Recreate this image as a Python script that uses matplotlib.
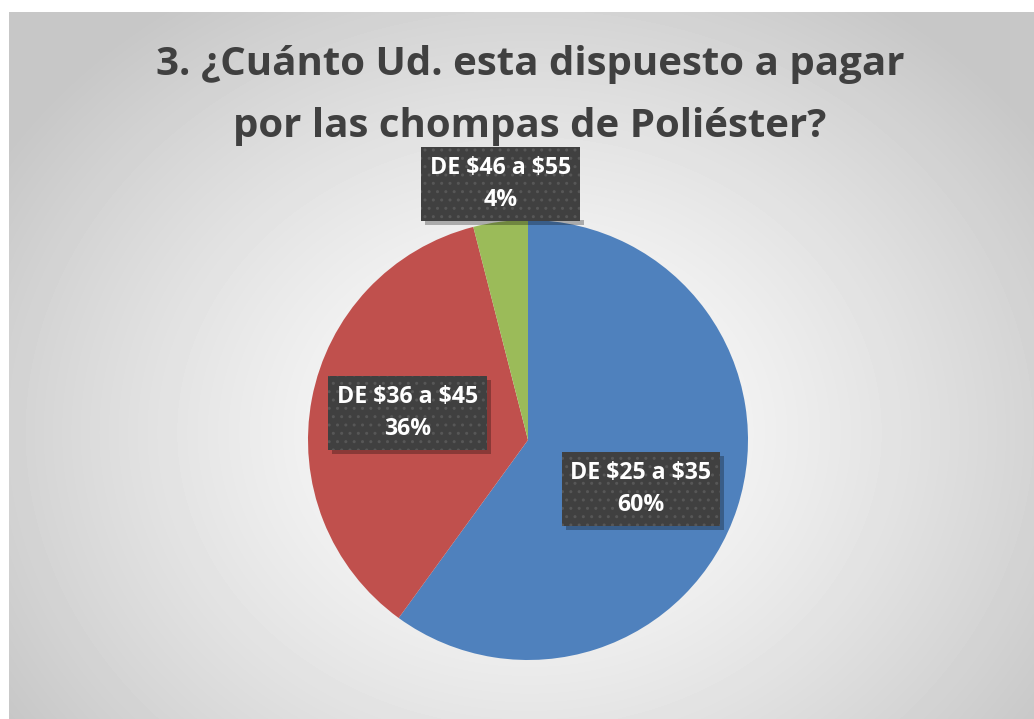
import numpy as np
import matplotlib.pyplot as plt
from matplotlib.patches import Rectangle
from matplotlib.transforms import IdentityTransform

TITLE_LINES = ["3. ¿Cuánto Ud. esta dispuesto a pagar", "por las chompas de Poliéster?"]
categories = ["DE \\$25 a \\$35", "DE \\$36 a \\$45", "DE \\$46 a \\$55"]
shares = [60, 36, 4]
colors = ["#4F81BD", "#C0504D", "#9BBB59"]
label_radius = [0.56, 0.56, 1.17]
label_turn = [-5.5, -2.0, -1.0]   # degrees added to each wedge's mid-angle

W, H = 1034, 719
plt.rcParams["font.family"] = ["Open Sans", "DejaVu Sans"]
plt.rcParams["hatch.linewidth"] = 1.0

fig = plt.figure(figsize=(W / 100, H / 100), dpi=100)
fig.patch.set_facecolor("white")

# chart area with a soft radial gradient
bg = fig.add_axes([9 / W, 0, 1 - 9 / W, 1 - 12 / H])
yy, xx = np.mgrid[0:707, 0:1025]
cx, cy = 520, 420
d = np.sqrt(((xx - cx) / 620.0) ** 2 + ((yy - cy) / 520.0) ** 2)
d = np.clip(d, 0, 1)
shade = 1.0 - 0.22 * d ** 1.3
bg.imshow(shade, cmap="gray", vmin=0, vmax=1, aspect="auto", interpolation="bilinear")
bg.axis("off")

# title, one baseline per line
for line, base in zip(TITLE_LINES, [75, 137]):
    fig.text(530 / W, 1 - base / H, line, ha="center", va="baseline", fontsize=29,
             fontweight="bold", color="#404040")

# pie, centred at (528, 440) px with radius 220 px
r_px = 220
ax = fig.add_axes([(528 - r_px) / W, (H - 440 - r_px) / H, 2 * r_px / W, 2 * r_px / H])
wedges, _ = ax.pie(shares, colors=colors, startangle=90, counterclock=False, radius=1.0)
ax.set_xlim(-1, 1)
ax.set_ylim(-1, 1)
ax.set_aspect("auto")
ax.axis("off")

labels = []
for w, cat, val, rr, turn in zip(wedges, categories, shares, label_radius, label_turn):
    ang = np.deg2rad((w.theta1 + w.theta2) / 2 + turn)
    x, y = rr * np.cos(ang), rr * np.sin(ang)
    t = ax.text(x, y, f"{cat}\n{val}%", ha="center", va="center", fontsize=16.7,
                fontweight="bold", color="white", linespacing=1.45, zorder=5,
                bbox=dict(boxstyle="square,pad=0.38", facecolor="#404040",
                          edgecolor="#575757", hatch="..", linewidth=0))
    labels.append(t)

# drop shadows under the label boxes
fig.canvas.draw()
for t in labels:
    ext = t.get_bbox_patch().get_window_extent()
    ax.add_patch(Rectangle((ext.x0 + 4, ext.y0 - 4), ext.width, ext.height,
                           transform=IdentityTransform(), facecolor="black",
                           alpha=0.28, linewidth=0, zorder=4))

fig.savefig("out.png", dpi=100)
